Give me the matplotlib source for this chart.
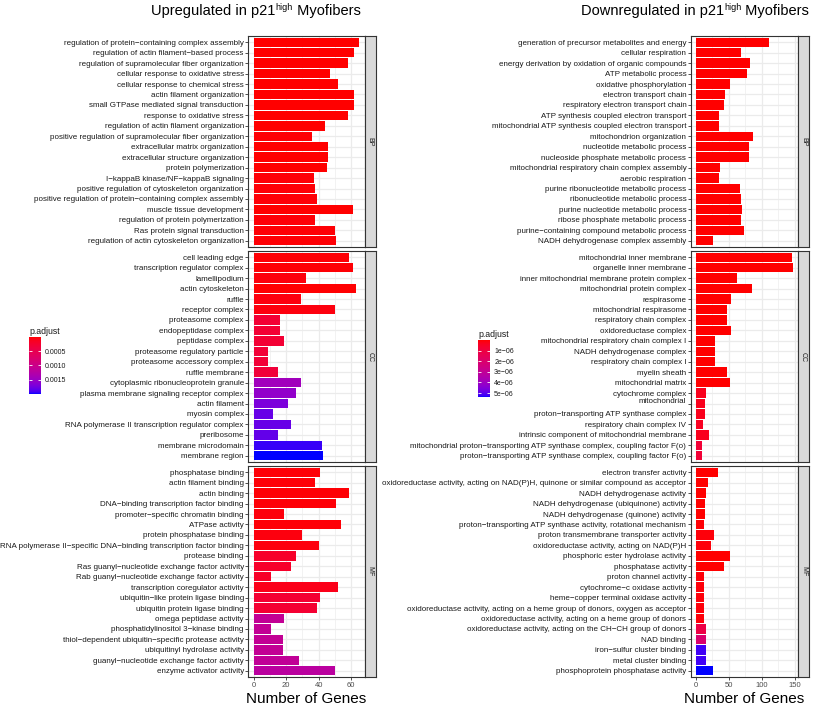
import numpy as np
import matplotlib
matplotlib.use('Agg')
from matplotlib import pyplot as plt
from matplotlib.colors import LinearSegmentedColormap, Normalize
from matplotlib.cm import ScalarMappable
from matplotlib.ticker import MultipleLocator

plt.rcParams['font.family'] = ['Liberation Sans', 'DejaVu Sans']

# ---------------- upregulated ----------------
up_bp = ['regulation of protein\u2212containing complex assembly',
         'regulation of actin filament\u2212based process',
         'regulation of supramolecular fiber organization',
         'cellular response to oxidative stress',
         'cellular response to chemical stress',
         'actin filament organization',
         'small GTPase mediated signal transduction',
         'response to oxidative stress',
         'regulation of actin filament organization',
         'positive regulation of supramolecular fiber organization',
         'extracellular matrix organization',
         'extracellular structure organization',
         'protein polymerization',
         'I\u2212kappaB kinase/NF\u2212kappaB signaling',
         'positive regulation of cytoskeleton organization',
         'positive regulation of protein\u2212containing complex assembly',
         'muscle tissue development',
         'regulation of protein polymerization',
         'Ras protein signal transduction',
         'regulation of actin cytoskeleton organization']
up_bp_n = [65, 62, 58, 47, 52, 62, 62, 58, 44, 36, 46, 46, 45, 37, 38, 39, 61, 38, 50, 51]
up_bp_p = [1e-8, 1e-8, 1e-8, 2e-6, 1e-6, 1e-8, 1e-8, 1e-7, 1e-6, 2e-5, 1e-6, 1e-6, 2e-6,
           3e-5, 3e-5, 3e-5, 1e-6, 3e-5, 2e-5, 2e-5]

up_cc = ['cell leading edge', 'transcription regulator complex', 'lamellipodium',
         'actin cytoskeleton', 'ruffle', 'receptor complex', 'proteasome complex',
         'endopeptidase complex', 'peptidase complex', 'proteasome regulatory particle',
         'proteasome accessory complex', 'ruffle membrane',
         'cytoplasmic ribonucleoprotein granule',
         'plasma membrane signaling receptor complex', 'actin filament', 'myosin complex',
         'RNA polymerase II transcription regulator complex', 'preribosome',
         'membrane microdomain', 'membrane region']
up_cc_n = [59, 61, 32, 63, 29, 50, 16, 16, 19, 9, 9, 15, 29, 26, 21, 12, 23, 15, 42, 43]
up_cc_p = [2e-5, 2e-5, 4e-5, 1e-5, 5e-5, 5e-5, 2.8e-4, 2.8e-4, 2.8e-4, 3e-4, 3e-4, 3.2e-4,
           1.44e-3, 1.56e-3, 1.7e-3, 1.8e-3, 1.8e-3, 1.82e-3, 1.94e-3, 2.0e-3]

up_mf = ['phosphatase binding', 'actin filament binding', 'actin binding',
         'DNA\u2212binding transcription factor binding',
         'promoter\u2212specific chromatin binding', 'ATPase activity',
         'protein phosphatase binding',
         'RNA polymerase II\u2212specific DNA\u2212binding transcription factor binding',
         'protease binding', 'Ras guanyl\u2212nucleotide exchange factor activity',
         'Rab guanyl\u2212nucleotide exchange factor activity',
         'transcription coregulator activity', 'ubiquitin\u2212like protein ligase binding',
         'ubiquitin protein ligase binding', 'omega peptidase activity',
         'phosphatidylinositol 3\u2212kinase binding',
         'thiol\u2212dependent ubiquitin\u2212specific protease activity',
         'ubiquitinyl hydrolase activity', 'guanyl\u2212nucleotide exchange factor activity',
         'enzyme activator activity']
up_mf_n = [41, 38, 59, 51, 19, 54, 30, 40, 26, 23, 11, 52, 41, 39, 19, 11, 18, 18, 28, 50]
up_mf_p = [3e-5, 3e-5, 2e-5, 3e-5, 4e-5, 3e-5, 5e-5, 5e-5, 2e-4, 2e-4, 1.8e-4, 1e-4,
           2.6e-4, 2.6e-4, 1.1e-3, 1.1e-3, 1.1e-3, 1.1e-3, 1.12e-3, 1.2e-3]

# ---------------- downregulated ----------------
dn_bp = ['generation of precursor metabolites and energy', 'cellular respiration',
         'energy derivation by oxidation of organic compounds', 'ATP metabolic process',
         'oxidative phosphorylation', 'electron transport chain',
         'respiratory electron transport chain', 'ATP synthesis coupled electron transport',
         'mitochondrial ATP synthesis coupled electron transport',
         'mitochondrion organization', 'nucleotide metabolic process',
         'nucleoside phosphate metabolic process',
         'mitochondrial respiratory chain complex assembly', 'aerobic respiration',
         'purine ribonucleotide metabolic process', 'ribonucleotide metabolic process',
         'purine nucleotide metabolic process', 'ribose phosphate metabolic process',
         'purine\u2212containing compound metabolic process',
         'NADH dehydrogenase complex assembly']
dn_bp_n = [111, 69, 82, 78, 52, 44, 43, 36, 35, 87, 81, 81, 37, 35, 67, 68, 70, 68, 73, 26]
dn_bp_p = [1e-12] * 20

dn_cc = ['mitochondrial inner membrane', 'organelle inner membrane',
         'inner mitochondrial membrane protein complex', 'mitochondrial protein complex',
         'respirasome', 'mitochondrial respirasome', 'respiratory chain complex',
         'oxidoreductase complex', 'mitochondrial respiratory chain complex I',
         'NADH dehydrogenase complex', 'respiratory chain complex I', 'myelin sheath',
         'mitochondrial matrix', 'cytochrome complex', 'mitochondrial\n ',
         'proton\u2212transporting ATP synthase complex', 'respiratory chain complex IV',
         'intrinsic component of mitochondrial membrane',
         'mitochondrial proton\u2212transporting ATP synthase complex, coupling factor F(o)',
         'proton\u2212transporting ATP synthase complex, coupling factor F(o)']
dn_cc_n = [145, 147, 63, 86, 53, 48, 48, 53, 30, 30, 30, 47, 52, 16, 14, 14, 11, 20, 9, 9]
dn_cc_p = [1e-12] * 13 + [3e-7, 3e-7, 3e-7, 4e-7, 3e-7, 8e-7, 8e-7]

dn_mf = ['electron transfer activity',
         'oxidoreductase activity, acting on NAD(P)H, quinone or similar compound as acceptor',
         'NADH dehydrogenase activity', 'NADH dehydrogenase (ubiquinone) activity',
         'NADH dehydrogenase (quinone) activity',
         'proton\u2212transporting ATP synthase activity, rotational mechanism',
         'proton transmembrane transporter activity',
         'oxidoreductase activity, acting on NAD(P)H', 'phosphoric ester hydrolase activity',
         'phosphatase activity', 'proton channel activity', 'cytochrome\u2212c oxidase activity',
         'heme\u2212copper terminal oxidase activity',
         'oxidoreductase activity, acting on a heme group of donors, oxygen as acceptor',
         'oxidoreductase activity, acting on a heme group of donors',
         'oxidoreductase activity, acting on the CH\u2212CH group of donors', 'NAD binding',
         'iron\u2212sulfur cluster binding', 'metal cluster binding',
         'phosphoprotein phosphatase activity']
dn_mf_n = [34, 19, 16, 15, 15, 13, 28, 24, 52, 43, 13, 12, 12, 12, 12, 16, 16, 16, 16, 27]
dn_mf_p = [1e-9, 1e-9, 1e-9, 1e-9, 1e-9, 5e-8, 1e-7, 1e-7, 1e-8, 2e-8, 1e-7, 1e-7, 1e-7,
           1e-7, 1e-7, 1.1e-6, 2.05e-6, 5.2e-6, 5.2e-6, 5.4e-6]

facets = ['BP', 'CC', 'MF']
up_ticks = [0.0005, 0.0010, 0.0015]
up_tick_labels = ['0.0005', '0.0010', '0.0015']
dn_ticks = [1e-6, 2e-6, 3e-6, 4e-6, 5e-6]
dn_tick_labels = ['1e\u221206', '2e\u221206', '3e\u221206', '4e\u221206', '5e\u221206']


# red -> blue ramp interpolated in CIELAB like ggplot's scale_fill_gradient
M = np.array([[0.4124, 0.3576, 0.1805], [0.2126, 0.7152, 0.0722], [0.0193, 0.1192, 0.9505]])
WHITE = np.array([0.95047, 1.0, 1.08883])


def to_lab(rgb):
    c = np.asarray(rgb, float)
    c = np.where(c <= 0.04045, c / 12.92, ((c + 0.055) / 1.055) ** 2.4)
    xyz = M @ c / WHITE
    f = np.where(xyz > 216 / 24389, np.cbrt(xyz), (24389 / 27 * xyz + 16) / 116)
    return np.array([116 * f[1] - 16, 500 * (f[0] - f[1]), 200 * (f[1] - f[2])])


def from_lab(lab):
    L, a, b = lab
    fy = (L + 16) / 116
    f = np.array([fy + a / 500, fy, fy - b / 200])
    xyz = np.where(f ** 3 > 216 / 24389, f ** 3, (116 * f - 16) / (24389 / 27)) * WHITE
    c = np.clip(np.linalg.solve(M, xyz), 0, 1)
    c = np.where(c <= 0.0031308, 12.92 * c, 1.055 * c ** (1 / 2.4) - 0.055)
    return np.clip(c, 0, 1)


lab0, lab1 = to_lab([1, 0, 0]), to_lab([0, 0, 1])
stops = [from_lab(lab0 + t * (lab1 - lab0)) for t in np.linspace(0, 1, 64)]
cmap = LinearSegmentedColormap.from_list('redblue', stops)

W, H = 821, 707
fig = plt.figure(figsize=(W / 100, H / 100), dpi=100)
renderer = fig.canvas.get_renderer()


def box(x0, y0, x1, y1):
    return [x0 / W, 1 - y1 / H, (x1 - x0) / W, (y1 - y0) / H]


rows = [(36, 247), (251, 462), (466, 677)]
DARK = '#333333'


def sup_title(cx, base_y, pre, sup, post, size):
    # main text + small raised "high", centred as one line
    parts = [fig.text(0, 0, pre, fontsize=size, va='baseline'),
             fig.text(0, 0, sup, fontsize=size * 0.62, va='baseline'),
             fig.text(0, 0, post, fontsize=size, va='baseline')]
    widths = [t.get_window_extent(renderer).width for t in parts]
    x = cx - sum(widths) / 2
    for t, w, dy in zip(parts, widths, [0, 4.3, 0]):
        t.set_position((x / W, 1 - (base_y - dy) / H))
        x += w


def draw_side(x0, x1, cats, counts, pvals, step, cbox, cticks, clabels, title, title_x):
    xmax = max(max(c) for c in counts)
    allp = np.concatenate(pvals)
    norm = Normalize(allp.min(), allp.max())
    for k, (y0, y1) in enumerate(rows):
        ax = fig.add_axes(box(x0, y0, x1, y1))
        ypos = np.arange(len(cats[k]))
        ax.barh(ypos, counts[k], height=0.9, color=cmap(norm(np.array(pvals[k]))), zorder=2)
        ax.set_xlim(-0.05 * xmax, 1.05 * xmax)
        ax.set_ylim(len(ypos) - 0.4, -0.6)
        ax.set_yticks(ypos)
        ax.set_yticklabels(cats[k], fontsize=5.75, color='#1a1a1a')
        ax.xaxis.set_major_locator(MultipleLocator(step))
        ax.xaxis.set_minor_locator(MultipleLocator(step / 2))
        ax.grid(True, which='major', color='#ebebeb', lw=0.9, zorder=0)
        ax.grid(True, which='minor', axis='x', color='#ebebeb', lw=0.45, zorder=0)
        ax.set_axisbelow(True)
        ax.tick_params(axis='y', length=2.2, width=0.6, color=DARK, pad=1)
        ax.tick_params(axis='x', which='major', length=2.2, width=0.6, color=DARK,
                       labelsize=5.5, labelcolor='#4d4d4d', pad=1.5)
        ax.tick_params(axis='x', which='minor', length=0)
        if k < 2:
            ax.tick_params(axis='x', which='major', length=0, labelbottom=False)
        for s in ax.spines.values():
            s.set_color(DARK)
            s.set_linewidth(0.8)

        sax = fig.add_axes(box(x1, y0, x1 + 11.5, y1))
        sax.set_facecolor('#d9d9d9')
        sax.set_xticks([])
        sax.set_yticks([])
        for s in sax.spines.values():
            s.set_color(DARK)
            s.set_linewidth(0.8)
        sax.text(0.5, 0.5, facets[k], rotation=270, ha='center', va='center',
                 fontsize=5, color='#1a1a1a', transform=sax.transAxes)

    cax = fig.add_axes(box(*cbox))
    cb = fig.colorbar(ScalarMappable(norm=norm, cmap=cmap), cax=cax)
    cb.outline.set_visible(False)
    cb.minorticks_off()
    cax.invert_yaxis()
    cb.set_ticks(cticks)
    cb.set_ticklabels(clabels)
    cax.tick_params(direction='in', color='white', length=2.3, width=0.6, left=True,
                    right=True, labelleft=False, labelright=True, labelsize=5,
                    labelcolor='#1a1a1a', pad=3)
    fig.text(cbox[0] / W, 1 - (cbox[1] - 3) / H, 'p.adjust', fontsize=6.3,
             ha='left', va='baseline', color='#1a1a1a')

    sup_title(title_x, 14.5, title, 'high', ' Myofibers', 10.5)
    fig.text((x0 + x1) / 2 / W, 1 - 703 / H, 'Number of Genes', fontsize=11,
             ha='center', va='baseline')


draw_side(248.3, 364.5, [up_bp, up_cc, up_mf], [up_bp_n, up_cc_n, up_mf_n],
          [up_bp_p, up_cc_p, up_mf_p], 20, (29, 337, 40.5, 394),
          up_ticks, up_tick_labels, 'Upregulated in p21', 256)
draw_side(690.7, 797.7, [dn_bp, dn_cc, dn_mf], [dn_bp_n, dn_cc_n, dn_mf_n],
          [dn_bp_p, dn_cc_p, dn_mf_p], 50, (478, 340, 490, 397.3),
          dn_ticks, dn_tick_labels, 'Downregulated in p21', 695)

fig.savefig('out.png', dpi=100)
